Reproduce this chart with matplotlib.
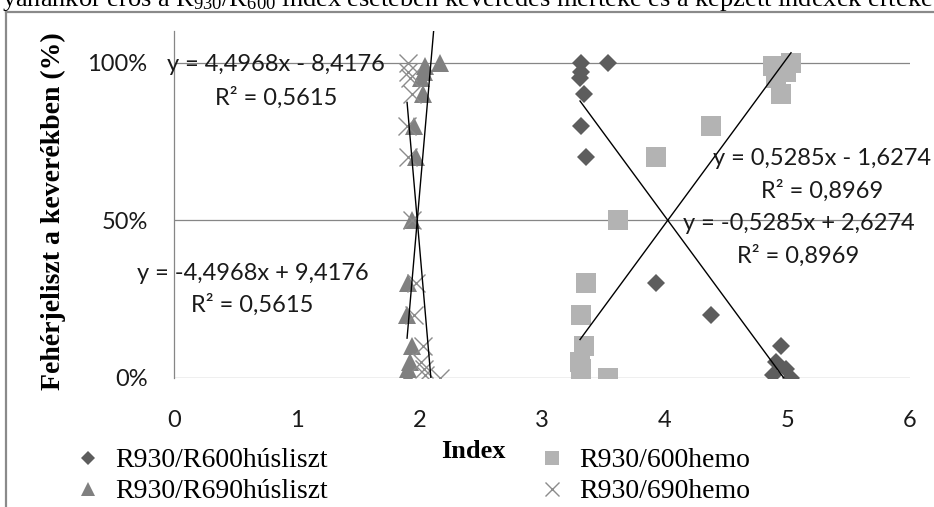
import matplotlib
matplotlib.use("Agg")
import matplotlib.pyplot as plt
from matplotlib.lines import Line2D
import numpy as np

# R930/R600 index: húsliszt (rombusz) és hemo (négyzet)
r600_hus_index = [3.54, 3.32, 3.32, 3.31, 3.34, 3.32, 3.36, 3.62, 3.93, 4.38, 4.95, 4.91, 4.99, 4.88, 5.03]
r600_hus_pct = [1.00, 1.00, 0.97, 0.95, 0.90, 0.80, 0.70, 0.50, 0.30, 0.20, 0.10, 0.05, 0.03, 0.01, 0.00]
r600_hemo_index = [3.54, 3.32, 3.32, 3.31, 3.34, 3.32, 3.36, 3.62, 3.93, 4.38, 4.95, 4.91, 4.99, 4.88, 5.03]
r600_hemo_pct = [0.00, 0.00, 0.03, 0.05, 0.10, 0.20, 0.30, 0.50, 0.70, 0.80, 0.90, 0.95, 0.97, 0.99, 1.00]

# R930/R690 index: húsliszt (háromszög) és hemo (x)
r690_hus_index = [2.17, 2.05, 2.04, 2.01, 2.03, 1.96, 1.97, 1.94, 1.91, 1.90, 1.94, 1.92, 1.91, 1.91]
r690_hus_pct = [1.00, 0.99, 0.97, 0.95, 0.90, 0.80, 0.70, 0.50, 0.30, 0.20, 0.10, 0.05, 0.03, 0.00]
r690_hemo_index = [2.17, 2.05, 2.04, 2.01, 2.03, 1.96, 1.97, 1.94, 1.91, 1.90, 1.94, 1.92, 1.91, 1.91]
r690_hemo_pct = [0.00, 0.01, 0.03, 0.05, 0.10, 0.20, 0.30, 0.50, 0.70, 0.80, 0.90, 0.95, 0.97, 1.00]

# trendvonalak (meredekség, tengelymetszet) a feliratokról
trend_slopes = [4.4968, -4.4968, 0.5285, -0.5285]
trend_icpts = [-8.4176, 9.4176, -1.6274, 2.6274]
trend_eq = ["y = 4,4968x - 8,4176", "y = -4,4968x + 9,4176",
            "y = 0,5285x - 1,6274", "y = -0,5285x + 2,6274"]
trend_r2 = ["R² = 0,5615", "R² = 0,5615", "R² = 0,8969", "R² = 0,8969"]

x_ticks = [0, 1, 2, 3, 4, 5, 6]
y_ticks = [0, 0.5, 1.0]
y_ticklabels = ["0%", "50%", "100%"]

W, H = 934, 507
plt.rcParams["mathtext.fontset"] = "custom"
plt.rcParams["mathtext.rm"] = "Liberation Serif"
plt.rcParams["mathtext.it"] = "Liberation Serif:italic"

fig = plt.figure(figsize=(W / 100, H / 100), dpi=100)
ax = fig.add_axes([174 / W, 1 - 378 / H, (910 - 174) / W, (378 - 31) / H])

grid_col = "#868686"
for yt in y_ticks:
    ax.axhline(yt, color=grid_col, lw=0.9, zorder=1)

# pontok
ax.plot(r600_hus_index, r600_hus_pct, "D", color="#5d5d5d", ms=9.5, mew=0, zorder=2,
        label="R930/R600húsliszt")
ax.plot(r690_hus_index, r690_hus_pct, "^", color="#808080", ms=13, mew=0, zorder=2,
        label="R930/R690húsliszt")
ax.plot(r600_hemo_index, r600_hemo_pct, "s", color="#b3b3b3", ms=14, mew=0, zorder=2,
        label="R930/600hemo")
ax.plot(r690_hemo_index, r690_hemo_pct, "x", color="#8c8c8c", ms=13, mew=1.0, zorder=2,
        label="R930/690hemo")

# trendvonalak az adatok x-tartományán
trend_x = [r690_hus_index, r690_hemo_index, r600_hemo_index, r600_hus_index]
for xs, m, b in zip(trend_x, trend_slopes, trend_icpts):
    xx = np.array([min(xs), max(xs)])
    ax.plot(xx, m * xx + b, color="black", lw=1.0, zorder=4)

# egyenletek
label_pos = [(0.83, 0.994, 0.889), (0.64, 0.332, 0.231),
             (5.28, 0.696, 0.592), (5.09, 0.49, 0.389)]
for (lx, ly1, ly2), eq, r2 in zip(label_pos, trend_eq, trend_r2):
    ax.text(lx, ly1, eq, ha="center", va="center", fontsize=17,
            family="Lato", color="#1a1a1a", zorder=5, clip_on=False)
    ax.text(lx, ly2, r2, ha="center", va="center", fontsize=17,
            family="Lato", color="#1a1a1a", zorder=5, clip_on=False)

ax.set_xlim(0, 6)
ax.set_ylim(0, 1.1)
ax.set_xticks(x_ticks)
ax.set_xticklabels([str(t) for t in x_ticks])
ax.set_yticks(y_ticks)
ax.set_yticklabels(y_ticklabels)
ax.tick_params(axis="both", length=0, labelsize=17, colors="#1a1a1a")
ax.tick_params(axis="y", pad=19)
ax.tick_params(axis="x", pad=23)
for lab in ax.get_xticklabels() + ax.get_yticklabels():
    lab.set_family("Lato")
for s in ["top", "right", "bottom"]:
    ax.spines[s].set_visible(False)
ax.spines["left"].set_color(grid_col)
ax.spines["left"].set_linewidth(0.9)
ax.patch.set_alpha(0)

# tengelycímek
fig.text(53 / W, 1 - 211 / H, "Fehérjeliszt a keverékben (%)", rotation=90,
         ha="center", va="center", family="Liberation Serif", weight="bold", fontsize=20)
fig.text(473 / W, 1 - 452 / H, "Index", ha="center", va="center",
         family="Liberation Serif", weight="bold", fontsize=19)

# jelmagyarázat
handles, labels = ax.get_legend_handles_labels()
leg = fig.legend(handles, labels, loc="upper left", bbox_to_anchor=(74 / W, 1 - 448 / H),
                 ncol=2, frameon=False, borderpad=0, borderaxespad=0,
                 handlelength=1.0, handletextpad=0.47, columnspacing=7.6,
                 labelspacing=0.2, markerscale=0.75,
                 prop={"family": "Liberation Serif", "size": 20})

# a kép tetején levágott szöveg és a keret
fig.text(0.002, 1 - 6 / H,
         r"yanánkor erős a R$_{930}$/R$_{600}$ index esetében keveredés mértéke és a képzett indexek értéke",
         ha="left", va="baseline", family="Liberation Serif", fontsize=19)
fig.add_artist(Line2D([6 / W, 6 / W], [0, 1 - 12 / H], transform=fig.transFigure,
                      color="#8a8a8a", lw=1.6))
fig.add_artist(Line2D([6 / W, 1.0], [1 - 12 / H, 1 - 12 / H], transform=fig.transFigure,
                      color="#8a8a8a", lw=1.6))

fig.savefig("out.png", dpi=100)
